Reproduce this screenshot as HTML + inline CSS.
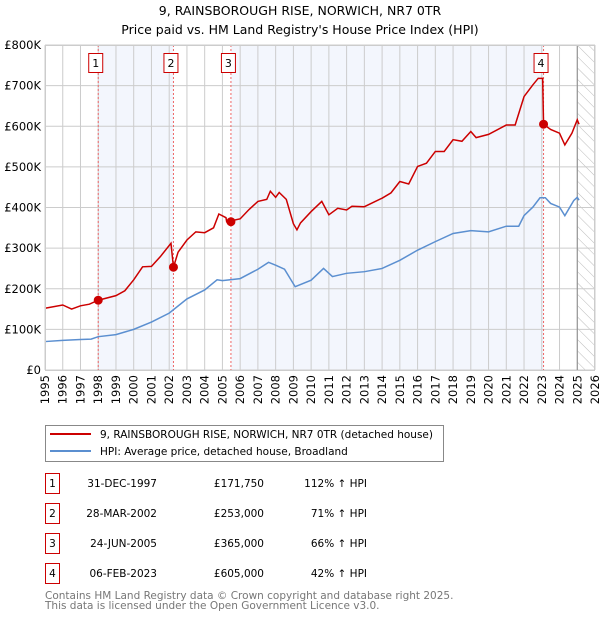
<!DOCTYPE html>
<html><head><meta charset="utf-8"><style>
body{margin:0;background:#fff;font-family:"DejaVu Sans","Liberation Sans",sans-serif;}
svg text{font-family:"DejaVu Sans","Liberation Sans",sans-serif;}
</style></head><body>
<svg id="chart" width="600" height="620" xmlns="http://www.w3.org/2000/svg">
<defs><pattern id="hatch" width="8" height="8" patternUnits="userSpaceOnUse" patternTransform="rotate(-45)"><line x1="0" y1="0" x2="0" y2="8" stroke="#bbb" stroke-width="1"/></pattern></defs>
<text x="300" y="15" text-anchor="middle" font-size="12.5">9, RAINSBOROUGH RISE, NORWICH, NR7 0TR</text>
<text x="300" y="34" text-anchor="middle" font-size="12.5">Price paid vs. HM Land Registry's House Price Index (HPI)</text>
<g id="plot"></g>
<g>
<rect x="45.5" y="425.5" width="398" height="36" fill="#fff" stroke="#888"/>
<line x1="50" y1="434" x2="91" y2="434" stroke="#cc0000" stroke-width="2"/>
<text x="100" y="438" font-size="10.5">9, RAINSBOROUGH RISE, NORWICH, NR7 0TR (detached house)</text>
<line x1="50" y1="451" x2="91" y2="451" stroke="#5b8fd0" stroke-width="2"/>
<text x="100" y="455" font-size="10.5">HPI: Average price, detached house, Broadland</text>
</g>
<g id="table"></g>
<text x="45" y="599" font-size="10.5" fill="#777">Contains HM Land Registry data © Crown copyright and database right 2025.</text>
<text x="45" y="609" font-size="10.5" fill="#777">This data is licensed under the Open Government Licence v3.0.</text>
</svg>
<script>
const hpiYears=[1995,1996,1997,1997.6,1998,1999,2000,2001,2002,2003,2004,2004.7,2005,2006,2007,2007.6,2008,2008.5,2009.1,2010,2010.7,2011.2,2012,2013,2014,2015,2016,2017,2018,2019,2020,2021,2021.7,2022,2022.5,2022.9,2023.2,2023.5,2024,2024.3,2024.8,2025,2025.1];
const hpiValues=[70000,73000,75000,76000,82000,87000,100000,118000,140000,175000,197000,222000,220000,225000,248000,265000,258000,248000,205000,221000,250000,230000,238000,242000,250000,270000,295000,316000,336000,343000,340000,354000,354000,380000,401000,424000,424000,410000,401000,380000,417000,425000,418000];
const redYears=[1995,1996,1996.5,1997,1997.5,1998,1999,1999.5,2000,2000.5,2001,2001.5,2002.1,2002.24,2002.5,2003,2003.5,2004,2004.5,2004.8,2005.2,2005.24,2006,2006.5,2007,2007.5,2007.7,2008,2008.2,2008.6,2009,2009.2,2009.4,2010,2010.6,2011,2011.5,2012,2012.3,2013,2014,2014.5,2015,2015.5,2016,2016.5,2017,2017.5,2018,2018.5,2019,2019.3,2020,2021,2021.5,2022,2022.5,2022.8,2023.05,2023.1,2023.5,2024,2024.3,2024.7,2025,2025.1];
const redValues=[152000,160000,150000,158000,162000,171750,183000,195000,222000,254000,255000,279000,312000,253000,290000,320000,340000,338000,350000,384000,375000,365000,372000,395000,415000,420000,440000,425000,437000,420000,360000,345000,362000,390000,415000,382000,398000,394000,403000,402000,423000,436000,464000,458000,501000,509000,538000,538000,567000,563000,587000,572000,580000,603000,603000,673000,702000,718000,718000,605000,592000,583000,554000,583000,616000,605000];
const saleIds=["1","2","3","4"];
const saleYears=[1998.0,2002.24,2005.48,2023.1];
const salePrices=[171750,253000,365000,605000];
const saleDates=["31-DEC-1997","28-MAR-2002","24-JUN-2005","06-FEB-2023"];
const salePriceLabels=["£171,750","£253,000","£365,000","£605,000"];
const salePct=["112% ↑ HPI","71% ↑ HPI","66% ↑ HPI","42% ↑ HPI"];
const yTicks=[0,100000,200000,300000,400000,500000,600000,700000,800000];
const yTickLabels=["£0","£100K","£200K","£300K","£400K","£500K","£600K","£700K","£800K"];
const xTicks=[1995,1996,1997,1998,1999,2000,2001,2002,2003,2004,2005,2006,2007,2008,2009,2010,2011,2012,2013,2014,2015,2016,2017,2018,2019,2020,2021,2022,2023,2024,2025,2026];

const L=45,R=595,T=45,B=370,X0=1995,X1=2026,YMAX=800000;
const xs=v=>L+(v-X0)/(X1-X0)*(R-L);
const ys=v=>B-v/YMAX*(B-T);
const NS="http://www.w3.org/2000/svg";
const plot=document.getElementById('plot');
function mk(tag,attrs,parent){const e=document.createElementNS(NS,tag);for(const k in attrs)e.setAttribute(k,attrs[k]);(parent||plot).appendChild(e);return e;}

let r;
r=mk('rect',{x:xs(saleYears[0]),y:T,width:xs(saleYears[1])-xs(saleYears[0]),height:B-T,fill:'#f3f6fd'});


r=mk('rect',{x:xs(saleYears[2]),y:T,width:xs(saleYears[3])-xs(saleYears[2]),height:B-T,fill:'#f3f6fd'});


r=mk('rect',{x:xs(2025.0),y:T,width:R-xs(2025.0),height:B-T,fill:'url(#hatch)'});



xTicks.forEach(t=>{
 const l=mk('line',{x1:xs(t),y1:T,x2:xs(t),y2:B,stroke:'#ccc','stroke-width':1});
 
 
 const tx=mk('text',{x:0,y:0,'font-size':11.5,'text-anchor':'end',transform:`translate(${xs(t)+4},${B+5}) rotate(-90)`});
 tx.textContent=t;
 
 
});
yTicks.forEach((t,i)=>{
 const l=mk('line',{x1:L,y1:ys(t),x2:R,y2:ys(t),stroke:'#ccc','stroke-width':1});
 
 
 const tx=mk('text',{x:L-4,y:ys(t)+4,'font-size':11.5,'text-anchor':'end'});
 tx.textContent=yTickLabels[i];
 
 
});
const vl=mk('line',{x1:xs(2025.0),y1:T,x2:xs(2025.0),y2:B,stroke:'#888','stroke-width':1});



saleYears.forEach((y,i)=>{
 const l=mk('line',{x1:xs(y),y1:T,x2:xs(y),y2:B,stroke:'#e66','stroke-width':1,'stroke-dasharray':'2,2'});
 
 
});

const hp=mk('polyline',{points:hpiYears.map((y,i)=>xs(y)+','+ys(hpiValues[i])).join(' '),fill:'none',stroke:'#5b8fd0','stroke-width':1.5});


const rp=mk('polyline',{points:redYears.map((y,i)=>xs(y)+','+ys(redValues[i])).join(' '),fill:'none',stroke:'#cc0000','stroke-width':1.5});



saleYears.forEach((y,i)=>{
 const c=mk('circle',{cx:xs(y),cy:ys(salePrices[i]),r:4.5,fill:'#cc0000'});
 
 
 const bx=mk('rect',{x:xs(y)-9.5,y:53.5,width:14,height:19,fill:'#fff',stroke:'#cc0000'});
 
 
 const t=mk('text',{x:xs(y)-2.5,y:67,'font-size':11,'text-anchor':'middle'});
 t.textContent=saleIds[i];
 
 
});
const fr=mk('rect',{x:L+0.5,y:T+0.5,width:R-L-1,height:B-T,fill:'none',stroke:'#ccc'});



const tb=document.getElementById('table');
saleIds.forEach((id,i)=>{
 const cy=483+i*30;
 const b=mk('rect',{x:45.5,y:cy-9.5,width:14,height:20,fill:'#fff',stroke:'#cc0000'},tb);
 
 
 const a=mk('text',{x:52.5,y:cy+4,'font-size':10.5,'text-anchor':'middle'},tb);a.textContent=id;
 
 
 const d=mk('text',{x:157,y:cy+4,'font-size':10.5,'text-anchor':'end'},tb);d.textContent=saleDates[i];
 
 
 const p=mk('text',{x:264,y:cy+4,'font-size':10.5,'text-anchor':'end'},tb);p.textContent=salePriceLabels[i];
 
 
 const q=mk('text',{x:367,y:cy+4,'font-size':10.5,'text-anchor':'end'},tb);q.textContent=salePct[i];
 
 
});
</script>
</body></html>
